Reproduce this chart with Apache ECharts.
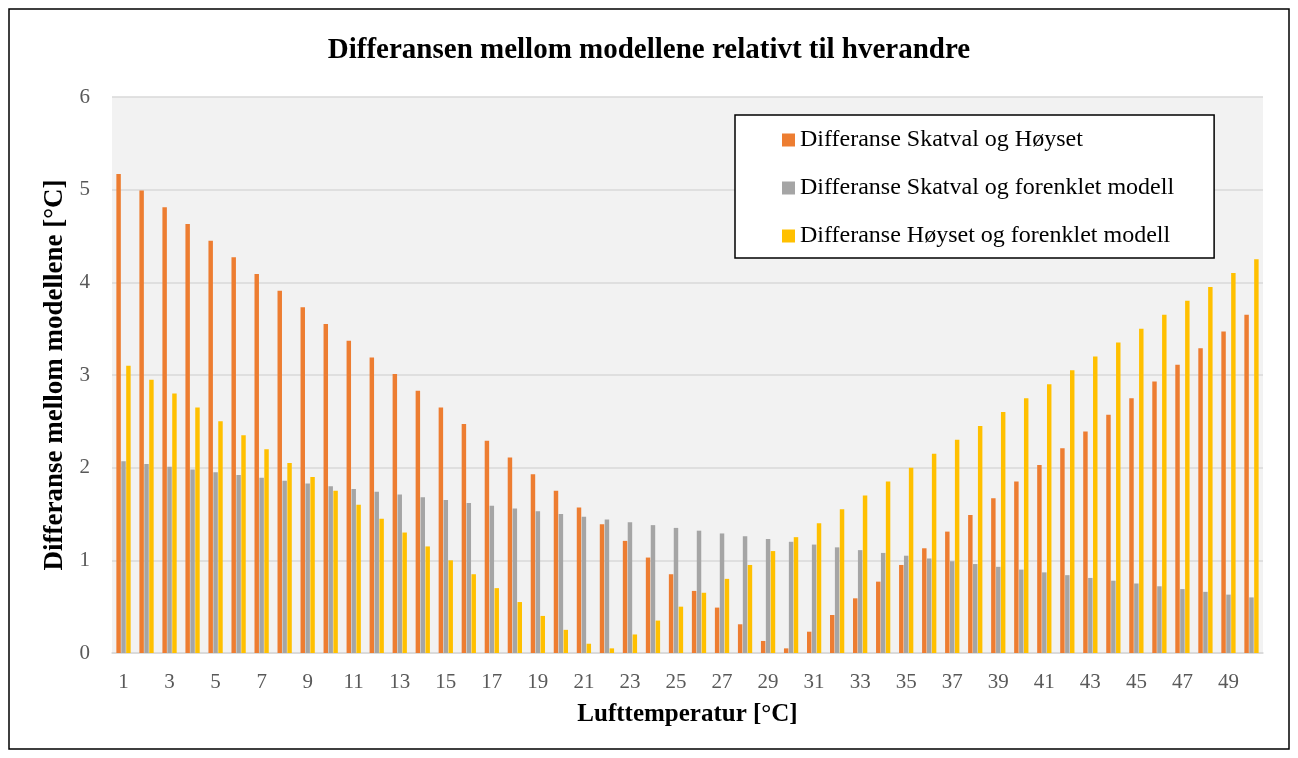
<!DOCTYPE html>
<html>
<head>
<meta charset="utf-8">
<script src="https://cdn.jsdelivr.net/npm/echarts@6/dist/echarts.min.js"></script>
<style>
  html, body { margin: 0; padding: 0; background: #fff; }
  #main { width: 1298px; height: 758px; }
</style>
</head>
<body>
<div id="main"></div>
<script>
  // kategorier (lufttemperatur)
  var categories = [];
  for (var i = 1; i <= 50; i++) categories.push(String(i));

  var seriesNames = [
    'Differanse Skatval og Høyset',
    'Differanse Skatval og forenklet modell',
    'Differanse Høyset og forenklet modell'
  ];

  var skatvalHoyset = [
    5.17, 4.99, 4.81, 4.63, 4.45, 4.27, 4.09, 3.91, 3.73, 3.55,
    3.37, 3.19, 3.01, 2.83, 2.65, 2.47, 2.29, 2.11, 1.93, 1.75,
    1.57, 1.39, 1.21, 1.03, 0.85, 0.67, 0.49, 0.31, 0.13, 0.05,
    0.23, 0.41, 0.59, 0.77, 0.95, 1.13, 1.31, 1.49, 1.67, 1.85,
    2.03, 2.21, 2.39, 2.57, 2.75, 2.93, 3.11, 3.29, 3.47, 3.65
  ];

  var skatvalForenklet = [
    2.07, 2.04, 2.01, 1.98, 1.95, 1.92, 1.89, 1.86, 1.83, 1.80,
    1.77, 1.74, 1.71, 1.68, 1.65, 1.62, 1.59, 1.56, 1.53, 1.50,
    1.47, 1.44, 1.41, 1.38, 1.35, 1.32, 1.29, 1.26, 1.23, 1.20,
    1.17, 1.14, 1.11, 1.08, 1.05, 1.02, 0.99, 0.96, 0.93, 0.90,
    0.87, 0.84, 0.81, 0.78, 0.75, 0.72, 0.69, 0.66, 0.63, 0.60
  ];

  var hoysetForenklet = [
    3.10, 2.95, 2.80, 2.65, 2.50, 2.35, 2.20, 2.05, 1.90, 1.75,
    1.60, 1.45, 1.30, 1.15, 1.00, 0.85, 0.70, 0.55, 0.40, 0.25,
    0.10, 0.05, 0.20, 0.35, 0.50, 0.65, 0.80, 0.95, 1.10, 1.25,
    1.40, 1.55, 1.70, 1.85, 2.00, 2.15, 2.30, 2.45, 2.60, 2.75,
    2.90, 3.05, 3.20, 3.35, 3.50, 3.65, 3.80, 3.95, 4.10, 4.25
  ];

  var colors = ['#ED7D31', '#A5A5A5', '#FFC000'];
  var serif = '"Liberation Serif", "DejaVu Serif", serif';

  var myChart = echarts.init(document.getElementById('main'));

  var option = {
    animation: false,
    color: colors,
    textStyle: { fontFamily: serif },
    title: {
      text: 'Differansen mellom modellene relativt til hverandre',
      left: 'center',
      top: 31,
      textStyle: { fontFamily: serif, fontSize: 29, fontWeight: 'bold', color: '#000' }
    },
    graphic: [{
      type: 'rect',
      shape: { x: 9, y: 9, width: 1280, height: 740 },
      style: { fill: 'none', stroke: '#000', lineWidth: 1.5 },
      silent: true,
      z: 100
    }],
    legend: {
      orient: 'vertical',
      left: 735,
      top: 115,
      padding: [13, 40, 10, 47],
      itemGap: 24,
      itemWidth: 13,
      itemHeight: 13,
      icon: 'rect',
      backgroundColor: '#fff',
      borderColor: '#000',
      borderWidth: 1.5,
      textStyle: { fontFamily: serif, fontSize: 24, color: '#000', lineHeight: 24 },
      data: seriesNames
    },
    grid: {
      left: 112,
      right: 35,
      top: 97,
      bottom: 105,
      show: true,
      backgroundColor: '#F2F2F2',
      borderWidth: 0
    },
    xAxis: {
      type: 'category',
      data: categories,
      name: 'Lufttemperatur [°C]',
      nameLocation: 'middle',
      nameGap: 49,
      nameTextStyle: { fontFamily: serif, fontSize: 25, fontWeight: 'bold', color: '#000' },
      axisLine: { lineStyle: { color: '#D9D9D9', width: 1.5 } },
      axisTick: { show: false },
      axisLabel: { interval: 1, margin: 19, fontFamily: serif, fontSize: 21, color: '#595959' }
    },
    yAxis: {
      type: 'value',
      min: 0,
      max: 6,
      interval: 1,
      name: 'Differanse mellom modellene [°C]',
      nameLocation: 'middle',
      nameGap: 40,
      nameTextStyle: { fontFamily: serif, fontSize: 27, fontWeight: 'bold', color: '#000' },
      axisLine: { show: false },
      axisTick: { show: false },
      axisLabel: { margin: 22, fontFamily: serif, fontSize: 21, color: '#595959' },
      splitLine: { lineStyle: { color: '#D9D9D9', width: 1.5 } }
    },
    series: [
      { name: seriesNames[0], type: 'bar', data: skatvalHoyset, barCategoryGap: '38%', barGap: '10%' },
      { name: seriesNames[1], type: 'bar', data: skatvalForenklet },
      { name: seriesNames[2], type: 'bar', data: hoysetForenklet }
    ]
  };

  myChart.setOption(option);
</script>
</body>
</html>
